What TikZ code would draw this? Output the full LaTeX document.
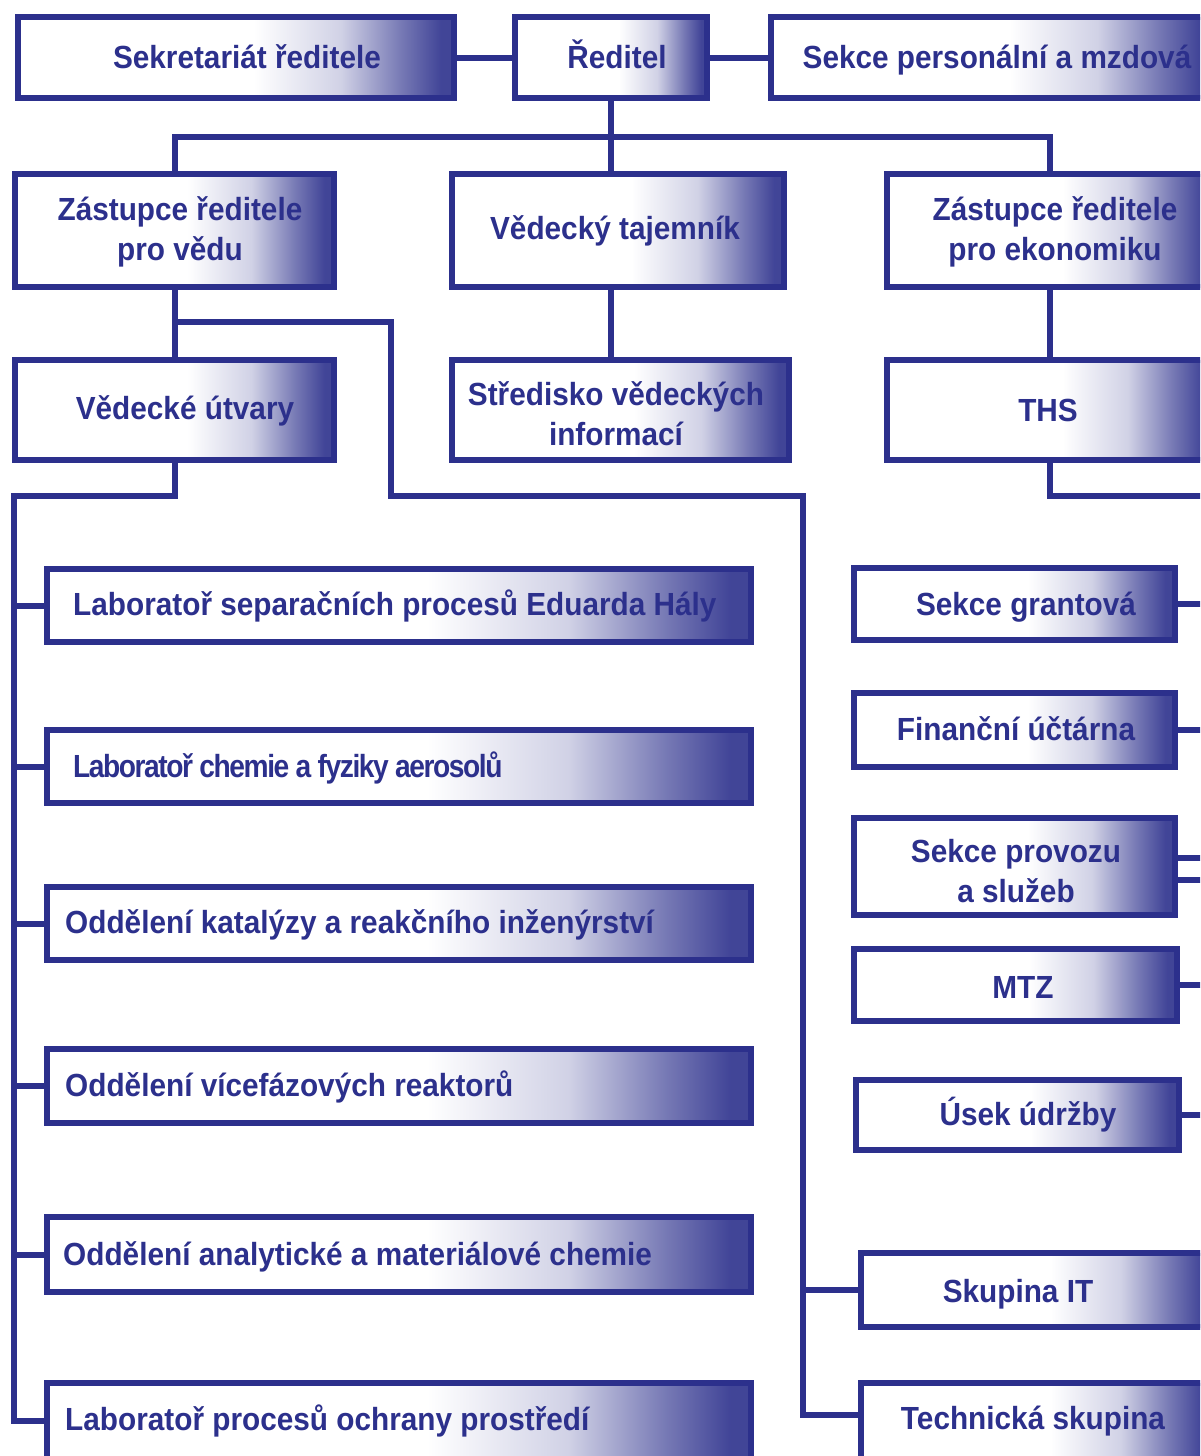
\documentclass[tikz,border=0pt]{standalone}
\usepackage{fontspec}
\usepackage{graphicx}
\newfontfamily\orgfont[FakeStretch=0.93]{Liberation Sans}
\newfontfamily\orgtight[FakeStretch=0.88,LetterSpace=-4.5]{Liberation Sans}
\definecolor{navy}{RGB}{44,48,140}
\pgfdeclarehorizontalshading{boxshade}{100bp}{color(0bp)=(white); color(25bp)=(white); color(52bp)=(white); color(62bp)=(navy!22); color(69bp)=(navy!65); color(73.5bp)=(navy!90); color(100bp)=(navy!90)}
\tikzset{
  box/.style={rectangle, draw=navy, line width=6pt, shade, shading=boxshade, inner sep=0pt, outer sep=0pt},
  conn/.style={draw=navy, line width=6pt, line join=miter},
  lbl/.style={font={\orgfont\bfseries\fontsize{32}{40}\selectfont}, text=navy, inner sep=0pt, align=center},
}
\begin{document}
\begin{tikzpicture}[x=1pt,y=-1pt]
\useasboundingbox (0,0) rectangle (1200,1456);
\fill[white] (0,0) rectangle (1200,1456);
\clip (0,0) rectangle (1200,1456);
% boxes
\node[box, minimum width=436pt, minimum height=81pt] (sek) at (236,57.5) {};
\node[box, minimum width=192pt, minimum height=81pt] (red) at (611,57.5) {};
\node[box, minimum width=441pt, minimum height=81pt] (pers) at (991.5,57.5) {};
\node[box, minimum width=319pt, minimum height=113pt] (zv) at (174.5,230.5) {};
\node[box, minimum width=332pt, minimum height=113pt] (vt) at (618,230.5) {};
\node[box, minimum width=325pt, minimum height=113pt] (ze) at (1049.5,230.5) {};
\node[box, minimum width=319pt, minimum height=100pt] (vu) at (174.5,410) {};
\node[box, minimum width=337pt, minimum height=100pt] (svi) at (620.5,410) {};
\node[box, minimum width=325pt, minimum height=100pt] (ths) at (1049.5,410) {};
\node[box, minimum width=704pt, minimum height=73pt] (l1) at (399,605.5) {};
\node[box, minimum width=704pt, minimum height=73pt] (l2) at (399,766.5) {};
\node[box, minimum width=704pt, minimum height=73pt] (l3) at (399,923.5) {};
\node[box, minimum width=704pt, minimum height=74pt] (l4) at (399,1086) {};
\node[box, minimum width=704pt, minimum height=75pt] (l5) at (399,1254.5) {};
\node[box, minimum width=704pt, minimum height=76pt] (l6) at (399,1421) {};
\node[box, minimum width=321pt, minimum height=72pt] (r1) at (1014.5,604) {};
\node[box, minimum width=321pt, minimum height=74pt] (r2) at (1014.5,730) {};
\node[box, minimum width=321pt, minimum height=97pt] (r3) at (1014.5,866.5) {};
\node[box, minimum width=323pt, minimum height=72pt] (r4) at (1015.5,985) {};
\node[box, minimum width=323pt, minimum height=70pt] (r5) at (1017.5,1115) {};
\node[box, minimum width=351pt, minimum height=74pt] (r6) at (1036.5,1290) {};
\node[box, minimum width=351pt, minimum height=76pt] (r7) at (1036.5,1421) {};
% labels
\node[lbl, anchor=base] (t-sek) at (247,68.5) {Sekretariát ředitele};
\node[lbl, anchor=base] (t-red) at (617,68.5) {Ředitel};
\node[lbl, anchor=base] (t-pers) at (997,68.5) {Sekce personální a mzdová};
\node[lbl] (t-zv) at (180,232) {Zástupce ředitele\\pro vědu};
\node[lbl, anchor=base] (t-vt) at (615,239.5) {Vědecký tajemník};
\node[lbl] (t-ze) at (1055,232) {Zástupce ředitele\\pro ekonomiku};
\node[lbl, anchor=base] (t-vu) at (185,419.5) {Vědecké útvary};
\node[lbl] (t-svi) at (616,414) {Středisko vědeckých\\informací};
\node[lbl, anchor=base] (t-ths) at (1048,421.5) {THS};
\node[lbl, anchor=base west] (t-l1) at (73,615.5) {Laboratoř separačních procesů Eduarda Hály};
\node[lbl, anchor=base west, font={\orgtight\bfseries\fontsize{32}{40}\selectfont}] (t-l2) at (73,777.5) {Laboratoř chemie a fyziky aerosolů};
\node[lbl, anchor=base west] (t-l3) at (65,933.5) {Oddělení katalýzy a reakčního inženýrství};
\node[lbl, anchor=base west] (t-l4) at (65,1096.5) {Oddělení vícefázových reaktorů};
\node[lbl, anchor=base west] (t-l5) at (63,1265.5) {Oddělení analytické a materiálové chemie};
\node[lbl, anchor=base west] (t-l6) at (65,1430.5) {Laboratoř procesů ochrany prostředí};
\node[lbl, anchor=base] (t-r1) at (1026,615.5) {Sekce grantová};
\node[lbl, anchor=base] (t-r2) at (1016,740.5) {Finanční účtárna};
\node[lbl] (t-r3) at (1016,871.5) {Sekce provozu\\a služeb};
\node[lbl, anchor=base] (t-r4) at (1023,998.5) {MTZ};
\node[lbl, anchor=base] (t-r5) at (1028,1125.5) {Úsek údržby};
\node[lbl, anchor=base] (t-r6) at (1018,1302.5) {Skupina IT};
\node[lbl, anchor=base] (t-r7) at (1033,1429.5) {Technická skupina};
% helper coordinates
\coordinate (bus) at (611,137);
\coordinate (busb) at (803,496);
\coordinate (busl) at (14,496);
\coordinate (rbus) at (1215,496);
% connectors
\draw[conn] (sek.east) -- (red.west);
\draw[conn] (red.east) -- (pers.west);
\draw[conn] (red.south) -- (red.south |- vt.north);
\draw[conn] (zv.north) |- (bus) -| (ze.north);
\draw[conn] (red.south |- vt.south) -- (red.south |- svi.north);
\draw[conn] (ze.south) -- (ths.north);
\draw[conn] (ths.south) |- (rbus);
\draw[conn] (zv.south) -- (vu.north);
\draw[conn] (zv.south |- 0,322) -| (391,496) -- (busb) |- ([yshift=6pt]r7.west);
\draw[conn] (busb |- r6.west) -- (r6.west);
\draw[conn] (vu.south) |- (busl) |- (l6.west);
\foreach \n in {l1,l2,l3,l4,l5} \draw[conn] (busl |- \n.west) -- (\n.west);
\foreach \n in {r1,r2,r4,r5} \draw[conn] (\n.east) -- (\n.east -| rbus);
\draw[conn] ([yshift=8.5pt]r3.east) -- ([yshift=8.5pt]r3.east -| rbus);
\draw[conn] ([yshift=-13.5pt]r3.east) -- ([yshift=-13.5pt]r3.east -| rbus);
\end{tikzpicture}
\end{document}
